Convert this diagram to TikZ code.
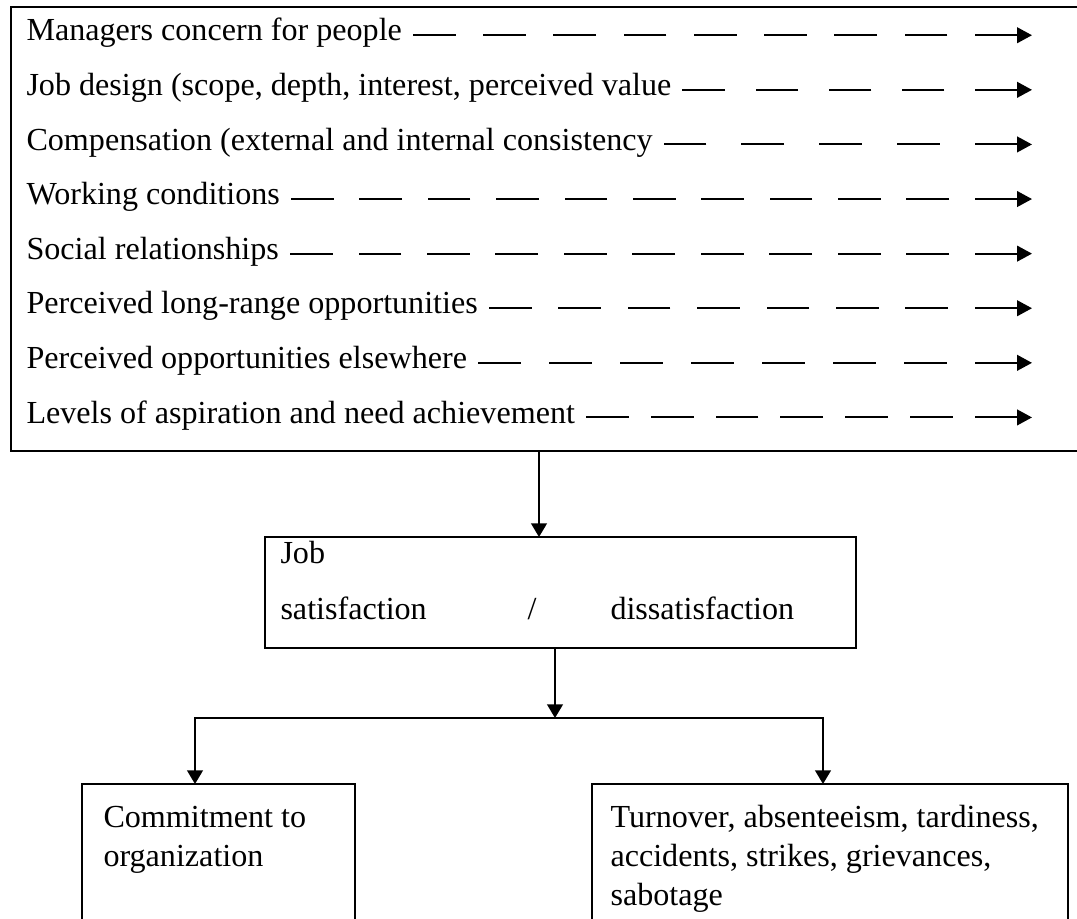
\documentclass[tikz,border=0pt]{standalone}
\usepackage{fontspec}
\setmainfont{Liberation Serif}
\usetikzlibrary{fit, calc, arrows.meta}

\begin{document}
\begin{tikzpicture}[x=0.014cm, y=-0.014cm,
    box/.style={draw, line width=0.9pt, inner sep=0pt},
    words/.style={font=\fontsize{12.8}{15}\selectfont, inner sep=0pt, anchor=base west},
    flow/.style={line width=0.8pt, {Triangle[length=0.21cm, width=0.22cm]}-},
    link/.style={line width=0.7pt, -{Triangle[length=0.19cm, width=0.22cm]}}]

\useasboundingbox (0,0) rectangle (1077,919);
\clip (0,0) rectangle (1077,919);

% Factors
\node[box, fit={(11,7) (1130,451)}] (factors) {};
\coordinate (tip) at (1032,0);
\foreach \txt [count=\i] in {
    Managers concern for people,
    {Job design (scope, depth, interest, perceived value},
    {Compensation (external and internal consistency},
    Working conditions,
    Social relationships,
    Perceived long-range opportunities,
    Perceived opportunities elsewhere,
    Levels of aspiration and need achievement}{
    \node[words] (f\i) at (26, {41+54.6*(\i-1)}) {\txt};
    % dashes fitted to the free length of each row
    \draw[flow] let \p1=(f\i.mid east), \p2=(tip),
        \n1={\x2-\x1-10pt},
        \n2={max(2,round((\n1+11pt)/(28pt)))},
        \n3={(\n1-\n2*17pt)/(\n2-1)} in
        [dash pattern=on 17pt off \n3]
        (\x2,\y1) -- ($(\x1,\y1)+(4pt,0)$);
}

% Job satisfaction
\node[box, fit={(265,537) (856,648)}] (sat) {};
\node[words] (job) at (280,564) {Job};
\node[words] (satis) at (280,620) {satisfaction};
\node[words] (slash) at (527,620) {/};
\node[words] (dissat) at (610,620) {dissatisfaction};

% Outcomes
\node[box, fit={(82,784) (355,960)}] (commit) {};
\node[words] (commit1) at (103,828) {Commitment to};
\node[words] (commit2) at (103,867) {organization};

\node[box, fit={(592,784) (1068,960)}] (quit) {};
\node[words] (quit1) at (610,828) {Turnover, absenteeism, tardiness,};
\node[words] (quit2) at (610,867) {accidents, strikes, grievances,};
\node[words] (quit3) at (610,906) {sabotage};

% Connectors
\coordinate (satin) at (539,537);
\draw[link] (satin |- factors.south) -- (satin);
\coordinate (split) at (555,718);
\draw[link] (split |- sat.south) -- (split);
\coordinate (commitin) at (195,784);
\coordinate (quitin) at (823,784);
\draw[link] (split) -| (commitin);
\draw[link] (split) -| (quitin);

\end{tikzpicture}
\end{document}
